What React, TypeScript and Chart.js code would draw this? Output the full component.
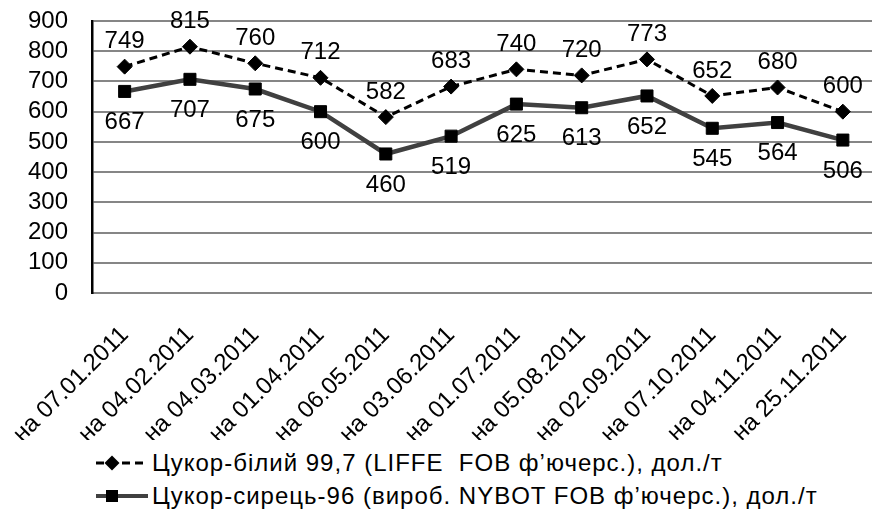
import React, { useEffect, useRef } from "react";
import { Chart, registerables } from "chart.js";

Chart.register(...registerables);

const categories = [
  "на 07.01.2011",
  "на 04.02.2011",
  "на 04.03.2011",
  "на 01.04.2011",
  "на 06.05.2011",
  "на 03.06.2011",
  "на 01.07.2011",
  "на 05.08.2011",
  "на 02.09.2011",
  "на 07.10.2011",
  "на 04.11.2011",
  "на 25.11.2011",
];
const whiteSugar = [749, 815, 760, 712, 582, 683, 740, 720, 773, 652, 680, 600];
const rawSugar = [667, 707, 675, 600, 460, 519, 625, 613, 652, 545, 564, 506];
const seriesNames = [
  "Цукор-білий 99,7 (LIFFE  FOB ф’ючерс.), дол./т",
  "Цукор-сирець-96 (вироб. NYBOT FOB ф’ючерс.), дол./т",
];
const yMin = 0;
const yMax = 900;
const yStep = 100;

const FONT = "'Liberation Sans', Arial, sans-serif";
const FONT_SIZE = 24;

const valueLabels = {
  id: "valueLabels",
  afterDatasetsDraw(chart: any) {
    const ctx = chart.ctx;
    ctx.save();
    ctx.font = `${FONT_SIZE}px ${FONT}`;
    ctx.fillStyle = "#000";
    ctx.textAlign = "center";
    ctx.textBaseline = "middle";
    chart.data.datasets.forEach((ds: any, di: number) => {
      const meta = chart.getDatasetMeta(di);
      meta.data.forEach((pt: any, i: number) => {
        const dy = di === 0 ? -25 : 31;
        ctx.fillText(String(ds.data[i]), pt.x, pt.y + dy);
      });
    });
    ctx.restore();
  },
};

function LegendRow({ dashed, diamond, text, top }: any) {
  return (
    <div
      style={{
        position: "absolute",
        left: 96,
        top,
        height: 30,
        display: "flex",
        alignItems: "center",
        whiteSpace: "pre",
        fontFamily: FONT,
        fontSize: FONT_SIZE,
        letterSpacing: "1px",
        color: "#000",
      }}
    >
      <svg width={56} height={30} style={{ display: "block" }}>
        <line
          x1={0}
          y1={15}
          x2={52}
          y2={15}
          stroke={dashed ? "#000" : "#404040"}
          strokeWidth={dashed ? 3 : 4}
          strokeDasharray={dashed ? "8 5" : undefined}
        />
        {diamond ? (
          <polygon points="16,7.5 23.5,15 16,22.5 8.5,15" fill="#000" />
        ) : (
          <rect x={10} y={9} width={12} height={12} fill="#000" />
        )}
      </svg>
      <span>{text}</span>
    </div>
  );
}

export default function App() {
  const ref = useRef<HTMLCanvasElement>(null);
  useEffect(() => {
    if (!ref.current) return;
    const chart = new Chart(ref.current, {
      type: "line",
      data: {
        labels: categories,
        datasets: [
          {
            label: seriesNames[0],
            data: whiteSugar,
            borderColor: "#000",
            borderWidth: 3,
            borderDash: [8, 5],
            pointStyle: "rectRot",
            pointRadius: 7.5,
            pointBackgroundColor: "#000",
            pointBorderColor: "#000",
            pointBorderWidth: 1,
            tension: 0,
          },
          {
            label: seriesNames[1],
            data: rawSugar,
            borderColor: "#404040",
            borderWidth: 4.5,
            pointStyle: "rect",
            pointRadius: 8.5,
            pointBackgroundColor: "#000",
            pointBorderColor: "#000",
            pointBorderWidth: 1,
            tension: 0,
          },
        ],
      },
      options: {
        animation: false,
        responsive: false,
        devicePixelRatio: 1,
        layout: { padding: { top: 21, right: 0, left: 0, bottom: 0 } },
        plugins: {
          legend: { display: false },
          tooltip: { enabled: false },
        },
        scales: {
          x: {
            offset: true,
            grid: {
              display: true,
              color: "rgba(0,0,0,0)",
              drawTicks: true,
              tickLength: 28,
              tickColor: "rgba(0,0,0,0)",
            },
            border: { display: true, color: "#868686", width: 2 },
            ticks: {
              autoSkip: false,
              minRotation: 45,
              maxRotation: 45,
              padding: 0,
              color: "#000",
              font: { family: FONT, size: FONT_SIZE },
            },
            afterFit: (scale: any) => {
              scale.height = 440 - 293;
            },
          },
          y: {
            min: yMin,
            max: yMax,
            grid: {
              color: "#868686",
              lineWidth: 2,
              drawTicks: true,
              tickLength: 24,
              tickColor: "rgba(0,0,0,0)",
            },
            border: { display: true, color: "#000", width: 2.5 },
            ticks: {
              stepSize: yStep,
              autoSkip: false,
              padding: 0,
              color: "#000",
              font: { family: FONT, size: FONT_SIZE },
            },
            afterFit: (scale: any) => {
              scale.width = 92;
            },
          },
        },
      },
      plugins: [valueLabels],
    });
    return () => chart.destroy();
  }, []);

  return (
    <div
      style={{
        position: "absolute",
        left: 0,
        top: 0,
        width: 872,
        height: 514,
        overflow: "hidden",
        background: "#fff",
      }}
    >
      <canvas
        ref={ref}
        width={885}
        height={440}
        style={{ position: "absolute", left: 0, top: 0, width: 885, height: 440 }}
      />
      <LegendRow dashed diamond text={seriesNames[0]} top={448} />
      <LegendRow text={seriesNames[1]} top={481} />
    </div>
  );
}
